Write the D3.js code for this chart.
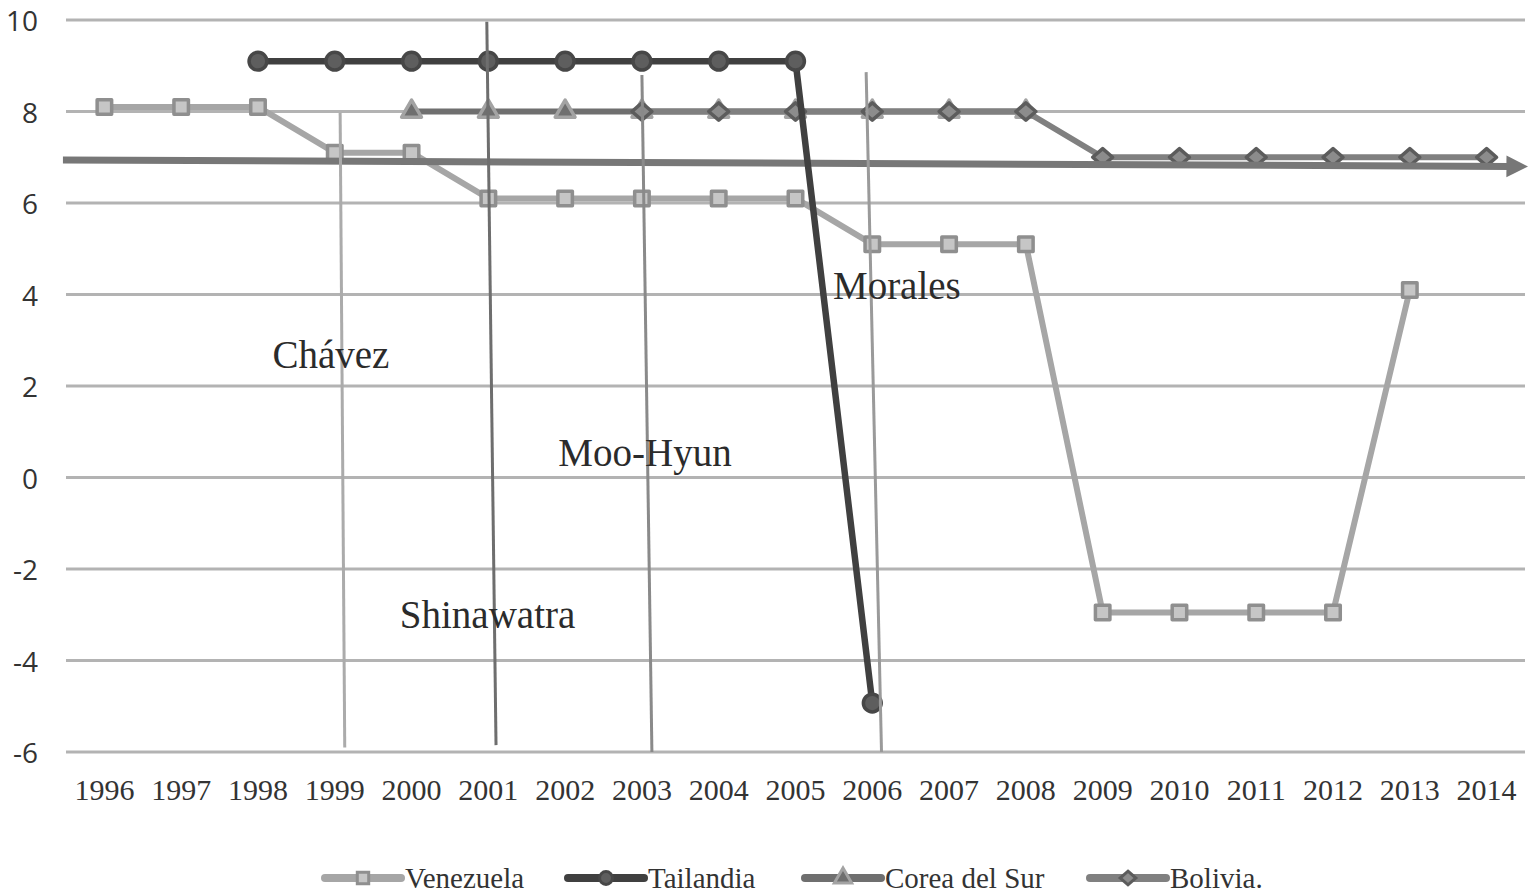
<!DOCTYPE html>
<html>
<head>
<meta charset="utf-8">
<script src="https://cdn.jsdelivr.net/npm/d3@7"></script>
<style>
  body { margin: 0; background: #fff; }
  svg { display: block; }
</style>
</head>
<body>
<svg class="chart" width="1532" height="894"></svg>
<script>
let years = ['1996','1997','1998','1999','2000','2001','2002','2003','2004','2005',
             '2006','2007','2008','2009','2010','2011','2012','2013','2014'];
let yTicks = [-6, -4, -2, 0, 2, 4, 6, 8, 10];

// null = no value that year
let venezuela = [8.1, 8.1, 8.1, 7.1, 7.1, 6.1, 6.1, 6.1, 6.1, 6.1, 5.1, 5.1, 5.1, -2.95, -2.95, -2.95, -2.95, 4.1, null];
let tailandia = [null, null, 9.1, 9.1, 9.1, 9.1, 9.1, 9.1, 9.1, 9.1, -4.93, null, null, null, null, null, null, null, null];
let corea     = [null, null, null, null, 8, 8, 8, 8, 8, 8, 8, 8, 8, null, null, null, null, null, null];
let bolivia   = [null, null, null, null, null, null, null, 8, 8, 8, 8, 8, 8, 7, 7, 7, 7, 7, 7];

// annotations drawn by hand over the chart, in (year index, value) units
let leaderNames = ['Chávez', 'Shinawatra', 'Moo-Hyun', 'Morales'];
let leaderLines = [
  {x1: 3.07, y1: 7.97, x2: 3.13, y2: -5.9},
  {x1: 4.98, y1: 9.96, x2: 5.10, y2: -5.85},
  {x1: 7.00, y1: 8.8,  x2: 7.13, y2: -6.0},
  {x1: 9.92, y1: 8.86, x2: 10.12, y2: -6.0}
];
let leaderLabels = [[2.95, 2.68], [4.99, -3.0], [7.04, 0.54], [10.32, 4.2]];
let arrowLine = [[-0.54, 6.94], [18.56, 6.8]];

let svg = d3.select('svg.chart');

let x = d3.scaleBand().domain(years).range([66, 1525]);
let xc = d => x(d) + x.bandwidth() / 2;
let xi = d3.scaleLinear().domain([0, 18]).range([xc(years[0]), xc(years[18])]);
let y = d3.scaleLinear().domain([-6, 10]).range([752, 20]);

// gridlines
svg.append('g')
  .selectAll('line')
  .data(yTicks)
  .enter()
  .append('line')
  .attr('x1', 66)
  .attr('x2', 1525)
  .attr('y1', d => y(d))
  .attr('y2', d => y(d))
  .style('stroke', '#b3b3b3')
  .style('stroke-width', '3px');

// y axis labels
svg.append('g')
  .selectAll('text')
  .data(yTicks)
  .enter()
  .append('text')
  .attr('x', 38)
  .attr('y', d => y(d))
  .attr('text-anchor', 'end')
  .attr('dominant-baseline', 'central')
  .style('font-family', '"Open Sans", "Liberation Sans", sans-serif')
  .style('font-size', '28px')
  .style('fill', '#333')
  .text(d => d);

// x axis labels
svg.append('g')
  .selectAll('text')
  .data(years)
  .enter()
  .append('text')
  .attr('x', d => xc(d))
  .attr('y', 789)
  .attr('text-anchor', 'middle')
  .attr('dominant-baseline', 'central')
  .style('font-family', '"Liberation Serif", "Times New Roman", serif')
  .style('font-size', '30px')
  .style('fill', '#333')
  .text(d => d);

let series = [
  {name: 'Venezuela', vals: venezuela, line: '#a6a6a6', width: 6, shape: 'square', mStroke: '#8f8f8f', mFill: '#c6c6c6'},
  {name: 'Tailandia', vals: tailandia, line: '#404040', width: 6.5, shape: 'circle', mStroke: '#474747', mFill: '#5e5e5e'},
  {name: 'Corea del Sur', vals: corea, line: '#6f6f6f', width: 6, shape: 'triangle', mStroke: '#a3a3a3', mFill: '#6f6f6f'},
  {name: 'Bolivia.', vals: bolivia, line: '#808080', width: 6, shape: 'diamond', mStroke: '#5c5c5c', mFill: '#8c8c8c'}
];

// wide diamond like the spreadsheet marker
let wideDiamond = {
  draw(ctx, size) {
    let r = Math.sqrt(size) / 1.6;
    ctx.moveTo(0, -r * 0.95);
    ctx.lineTo(r * 1.1, 0);
    ctx.lineTo(0, r * 0.95);
    ctx.lineTo(-r * 1.1, 0);
    ctx.closePath();
  }
};
let shapeType = {square: d3.symbolSquare, circle: d3.symbolCircle, triangle: d3.symbolTriangle, diamond: wideDiamond};
let shapeSize = {square: 210, circle: 250, triangle: 170, diamond: 210};

let line = d3.line()
  .defined(d => d.v != null)
  .x(d => xc(d.year))
  .y(d => y(d.v));

function drawSeries(s) {
  let pts = years.map((yr, i) => ({year: yr, v: s.vals[i]}));
  let g = svg.append('g');
  g.append('path')
    .datum(pts)
    .attr('d', line)
    .style('fill', 'none')
    .style('stroke', s.line)
    .style('stroke-width', s.width + 'px')
    .style('stroke-linejoin', 'round');
  g.selectAll('path.mark')
    .data(pts.filter(d => d.v != null))
    .enter()
    .append('path')
    .attr('class', 'mark')
    .attr('d', d3.symbol().type(shapeType[s.shape]).size(shapeSize[s.shape]))
    .attr('transform', d => `translate(${xc(d.year)},${y(d.v)})`)
    .style('fill', s.mFill)
    .style('stroke', s.mStroke)
    .style('stroke-width', '3.5px')
    .style('stroke-linejoin', 'round');
}

drawSeries(series[0]);
drawSeries(series[2]);
drawSeries(series[3]);

// thick arrow across the chart
svg.append('defs')
  .append('marker')
  .attr('id', 'arrowHead')
  .attr('viewBox', '0 0 10 10')
  .attr('refX', 1)
  .attr('refY', 5)
  .attr('markerWidth', 3.1)
  .attr('markerHeight', 3.3)
  .attr('orient', 'auto')
  .append('path')
  .attr('d', 'M0,0 L10,5 L0,10 Z')
  .style('fill', '#777');

svg.append('line')
  .attr('x1', xi(arrowLine[0][0]))
  .attr('y1', y(arrowLine[0][1]))
  .attr('x2', xi(arrowLine[1][0]) - 21)
  .attr('y2', y(arrowLine[1][1]))
  .attr('marker-end', 'url(#arrowHead)')
  .style('stroke', '#777')
  .style('stroke-width', '7px');

drawSeries(series[1]);

// vertical leader lines
let leaderColors = ['#ababab', '#6e6e6e', '#8a8a8a', '#9a9a9a'];
svg.append('g')
  .selectAll('line')
  .data(leaderLines)
  .enter()
  .append('line')
  .attr('x1', d => xi(d.x1))
  .attr('y1', d => y(d.y1))
  .attr('x2', d => xi(d.x2))
  .attr('y2', d => y(d.y2))
  .style('stroke', (d, i) => leaderColors[i])
  .style('stroke-width', '3px');

svg.append('g')
  .selectAll('text')
  .data(leaderLabels)
  .enter()
  .append('text')
  .attr('x', d => xi(d[0]))
  .attr('y', d => y(d[1]))
  .attr('text-anchor', 'middle')
  .attr('dominant-baseline', 'central')
  .style('font-family', '"Liberation Serif", "Times New Roman", serif')
  .style('font-size', '39px')
  .style('fill', '#2b2b2b')
  .text((d, i) => leaderNames[i]);

// legend
let legendX = [325, 568, 805, 1090];
let leg = svg.append('g')
  .selectAll('g')
  .data(series)
  .enter()
  .append('g')
  .attr('transform', (d, i) => `translate(${legendX[i]},878)`);

leg.append('line')
  .attr('x1', 0)
  .attr('x2', 76)
  .style('stroke', d => d.line)
  .style('stroke-width', '8px')
  .style('stroke-linecap', 'round');

leg.append('path')
  .attr('d', d => d3.symbol().type(shapeType[d.shape]).size(130)())
  .attr('transform', 'translate(38,0)')
  .style('fill', d => d.mFill)
  .style('stroke', d => d.mStroke)
  .style('stroke-width', '3px');

leg.append('text')
  .attr('x', 80)
  .attr('y', 0)
  .attr('dominant-baseline', 'central')
  .style('font-family', '"Liberation Serif", "Times New Roman", serif')
  .style('font-size', '29px')
  .style('fill', '#333')
  .text(d => d.name);
</script>
</body>
</html>
